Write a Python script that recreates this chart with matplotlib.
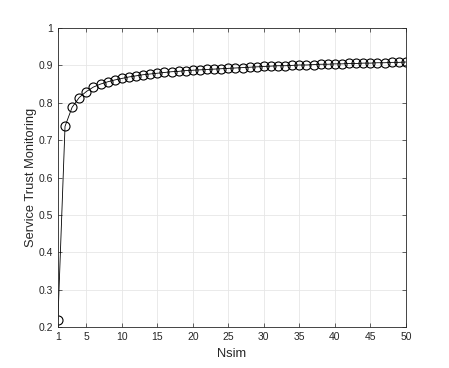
import matplotlib
matplotlib.use("Agg")
import matplotlib.pyplot as plt

nsim = list(range(1, 51))
trust = [0.220, 0.737, 0.788, 0.814, 0.830, 0.842, 0.850, 0.856, 0.861, 0.865,
         0.869, 0.872, 0.875, 0.877, 0.879, 0.881, 0.883, 0.884, 0.886, 0.887,
         0.888, 0.889, 0.890, 0.891, 0.892, 0.893, 0.894, 0.895, 0.896, 0.897,
         0.898, 0.899, 0.899, 0.900, 0.901, 0.901, 0.902, 0.903, 0.903, 0.904,
         0.904, 0.905, 0.905, 0.906, 0.906, 0.907, 0.907, 0.908, 0.908, 0.909]
xticks = [1, 5, 10, 15, 20, 25, 30, 35, 40, 45, 50]
yticks = [0.2, 0.3, 0.4, 0.5, 0.6, 0.7, 0.8, 0.9, 1.0]
ytick_labels = ["0.2", "0.3", "0.4", "0.5", "0.6", "0.7", "0.8", "0.9", "1"]

plt.rcParams['font.family'] = ['Liberation Sans', 'DejaVu Sans']
fig = plt.figure(figsize=(4.49, 3.68), dpi=100)
ax = fig.add_axes([0.129, 0.111, 0.775, 0.813])
ax.plot(nsim, trust, color='black', linewidth=0.6, marker='o', markersize=6.5,
        markerfacecolor='none', markeredgecolor='black', markeredgewidth=0.8)
ax.set_xlim(1, 50)
ax.set_ylim(0.2, 1.0)
ax.set_xticks(xticks)
ax.set_yticks(yticks)
ax.set_yticklabels(ytick_labels)
ax.grid(True, color='#e6e6e6', linewidth=0.6)
ax.set_axisbelow(True)
ax.tick_params(direction='in', length=3, width=0.5, labelsize=7.5, colors='#262626',
               top=True, right=True)
for s in ax.spines.values():
    s.set_color('#262626')
    s.set_linewidth(0.6)
ax.set_xlabel('Nsim', fontsize=9.3, color='#262626', labelpad=4)
ax.set_ylabel('Service Trust Monitoring', fontsize=9.3, color='#262626', labelpad=1)
fig.savefig('out.png', dpi=100)
